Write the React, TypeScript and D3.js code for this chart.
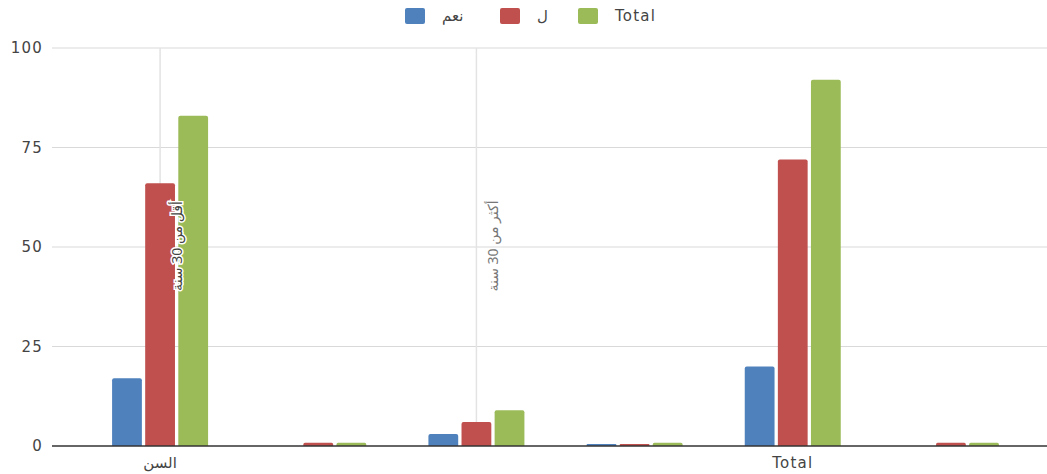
import React from "react";
import * as d3 from "d3";

// Category slots along the x axis
const categories = ["g1", "g2", "g3", "g4", "g5", "g6"];
// Lower axis labels (one per slot, blank where none)
const axisLabels = ["السن", "", "", "", "Total", ""];
// Rotated group labels drawn inside the plot
const groupLabels = ["أقل من 30 سنة", "", "أكثر من 30 سنة", "", "", ""];

const seriesNames = ["نعم", "ل", "Total"];
const seriesColors = ["#4F81BD", "#C0504D", "#9BBB59"];

const yesValues = [17, 0, 3, 0.5, 20, 0];
const noValues = [66, 0.8, 6, 0.5, 72, 0.8];
const totalValues = [83, 0.8, 9, 0.8, 92, 0.8];

const yTicks = [0, 25, 50, 75, 100];

const W = 1047;
const H = 474;
const plotLeft = 52;
const plotRight = 1047;
const plotTop = 48;
const plotBottom = 446;

function topRoundedBar(x: number, y: number, w: number, h: number, r: number) {
  const rr = Math.min(r, h / 2, w / 2);
  return `M${x},${y + h} L${x},${y + rr} Q${x},${y} ${x + rr},${y} L${x + w - rr},${y} Q${x + w},${y} ${x + w},${y + rr} L${x + w},${y + h} Z`;
}

export default function App() {
  const series = [yesValues, noValues, totalValues];

  const x = d3.scaleBand<string>().domain(categories).range([81, 1030]).paddingInner(0).paddingOuter(0);
  const inner = d3
    .scaleBand<string>()
    .domain(seriesNames)
    .range([0, 96])
    .paddingInner(0.1)
    .paddingOuter(0);
  const y = d3.scaleLinear().domain([0, 100]).range([plotBottom, plotTop]);

  const font = "'DejaVu Sans', Verdana, sans-serif";
  const ls = 1.2;

  const legendX = [405, 500, 578];

  return (
    <svg width={W} height={H} style={{ position: "absolute", left: 0, top: 0, background: "#fff" }} fontFamily={font}>
      {/* horizontal gridlines */}
      {yTicks.map((t) =>
        t === 0 ? null : (
          <line key={"g" + t} x1={plotLeft} x2={plotRight} y1={y(t)} y2={y(t)} stroke="#d9d9d9" strokeWidth={1} />
        )
      )}
      {/* vertical lines at the labelled groups */}
      {categories.map((c, i) =>
        groupLabels[i] ? (
          <line
            key={"v" + c}
            x1={x(c)! + x.bandwidth() / 2}
            x2={x(c)! + x.bandwidth() / 2}
            y1={plotTop}
            y2={plotBottom}
            stroke="#e3e3e3"
            strokeWidth={1.5}
          />
        ) : null
      )}
      {/* y tick labels */}
      {yTicks.map((t) => (
        <text
          key={"t" + t}
          x={43}
          y={y(t)}
          dy="0.35em"
          textAnchor="end"
          fontSize={15}
          letterSpacing={ls}
          fill="#444"
        >
          {t}
        </text>
      ))}
      {/* bars */}
      {categories.map((c, i) => {
        const cx = x(c)! + x.bandwidth() / 2 - 48;
        return series.map((vals, s) => {
          const v = vals[i];
          if (!v) return null;
          const bx = cx + inner(seriesNames[s])!;
          const by = y(v);
          return (
            <path
              key={c + s}
              d={topRoundedBar(bx, by, inner.bandwidth(), plotBottom - by, 2)}
              fill={seriesColors[s]}
            />
          );
        });
      })}
      {/* baseline */}
      <line x1={plotLeft} x2={plotRight} y1={plotBottom} y2={plotBottom} stroke="#333" strokeWidth={1.5} />
      {/* rotated group labels */}
      {categories.map((c, i) =>
        groupLabels[i] ? (
          <text
            key={"gl" + c}
            transform={`translate(${x(c)! + x.bandwidth() / 2 + 17},${246}) rotate(-90)`}
            textAnchor="middle"
            dy="0.35em"
            fontSize={14}
            fill={i === 0 ? "#444" : "#777"}
            stroke="#fff"
            strokeWidth={i === 0 ? 3 : 0}
            paintOrder="stroke"
            fontFamily="'Noto Sans', 'DejaVu Sans', sans-serif"
          >
            {groupLabels[i]}
          </text>
        ) : null
      )}
      {/* x axis labels */}
      {categories.map((c, i) =>
        axisLabels[i] ? (
          <text
            key={"xl" + c}
            x={x(c)! + x.bandwidth() / 2}
            y={468}
            textAnchor="middle"
            fontSize={15}
            letterSpacing={ls}
            fill="#444"
          >
            {axisLabels[i]}
          </text>
        ) : null
      )}
      {/* legend */}
      {seriesNames.map((name, s) => (
        <g key={name}>
          <rect x={legendX[s]} y={8} width={20} height={16} rx={2} fill={seriesColors[s]} />
          <text
            x={legendX[s] + 37}
            y={16}
            dy="0.35em"
            textAnchor="start"
            fontSize={15}
            letterSpacing={ls}
            fill="#444"
          >
            {name}
          </text>
        </g>
      ))}
    </svg>
  );
}
